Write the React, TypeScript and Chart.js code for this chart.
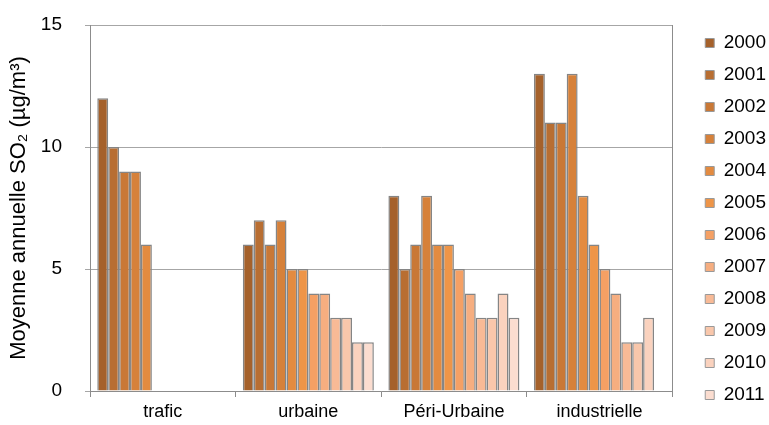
import React, { useEffect, useRef } from "react";
import { Chart, registerables } from "chart.js";

Chart.register(...registerables);

const categories = ["trafic", "urbaine", "Péri-Urbaine", "industrielle"];
const years = ["2000", "2001", "2002", "2003", "2004", "2005", "2006", "2007", "2008", "2009", "2010", "2011"];

// values per category: trafic, urbaine, Péri-Urbaine, industrielle
const v2000 = [12, 6, 8, 13];
const v2001 = [10, 7, 5, 11];
const v2002 = [9, 6, 6, 11];
const v2003 = [9, 7, 8, 13];
const v2004 = [6, 5, 6, 8];
const v2005 = [null, 5, 6, 6];
const v2006 = [null, 4, 5, 5];
const v2007 = [null, 4, 4, 4];
const v2008 = [null, 3, 3, 2];
const v2009 = [null, 3, 3, 2];
const v2010 = [null, 2, 4, 3];
const v2011 = [null, 2, 3, null];
const seriesValues = [v2000, v2001, v2002, v2003, v2004, v2005, v2006, v2007, v2008, v2009, v2010, v2011];

const yTicks = [0, 5, 10, 15];

const colors = [
  "#A5612B", "#B86E32", "#C97836", "#D6813A", "#E38B40", "#EE9548",
  "#F5A064", "#F6AE80", "#F8BA96", "#F9C7AB", "#FAD2BE", "#FBDDD0",
];

const FONT = "'Liberation Sans', Arial, sans-serif";

export default function App() {
  const ref = useRef<HTMLCanvasElement | null>(null);

  useEffect(() => {
    if (!ref.current) return;
    const chart = new Chart(ref.current, {
      type: "bar",
      data: {
        labels: categories,
        datasets: years.map((y, i) => ({
          label: y,
          data: seriesValues[i],
          backgroundColor: colors[i],
          borderColor: "#858585",
          borderWidth: 1.5,
          categoryPercentage: 0.9,
          barPercentage: 1,
        })),
      },
      options: {
        responsive: true,
        maintainAspectRatio: false,
        animation: false,
        layout: { padding: { top: 25, right: 2, left: 0, bottom: 0 } },
        plugins: {
          tooltip: { enabled: false },
          legend: {
            position: "right",
            align: "start",
            labels: {
              boxWidth: 9,
              boxHeight: 9,
              padding: 13,
              color: "#000",
              font: { family: FONT, size: 19 },
              generateLabels: (chart: any) =>
                (Chart.defaults.plugins.legend.labels.generateLabels as any)(chart).map((l: any) => ({
                  ...l,
                  lineWidth: 1,
                  strokeStyle: "#999999",
                })),
            },
          },
        },
        scales: {
          x: {
            grid: {
              display: true,
              drawOnChartArea: false,
              drawTicks: true,
              tickLength: 6,
              offset: true,
              color: "#8c8c8c",
            },
            border: { display: true, color: "#8c8c8c", width: 1 },
            ticks: { color: "#000", font: { family: FONT, size: 18 }, padding: 4 },
            afterFit: (s: any) => { s.height = 34; s.paddingLeft = 0; s.paddingRight = 0; },
          },
          y: {
            min: 0,
            max: 15,
            afterBuildTicks: (s: any) => { s.ticks = yTicks.map((v) => ({ value: v })); },
            grid: { color: "#a6a6a6", tickLength: 5, lineWidth: 1 },
            border: { display: true, color: "#8c8c8c", width: 1 },
            ticks: { color: "#000", font: { family: FONT, size: 19 }, padding: 23 },
            title: {
              display: true,
              text: "Moyenne annuelle SO₂ (µg/m³)",
              color: "#000",
              font: { family: FONT, size: 22 },
              padding: { top: 6, bottom: 0 },
            },
            afterFit: (s: any) => { s.width = 90; s.paddingTop = 0; s.paddingBottom = 0; },
          },
          y2: {
            position: "right",
            min: 0,
            max: 15,
            grid: { display: false, drawTicks: false },
            ticks: { display: false },
            border: { display: true, color: "#8c8c8c", width: 1 },
            afterFit: (s: any) => { s.width = 11; s.paddingTop = 0; s.paddingBottom = 0; },
          },
        },
      },
      plugins: [
        {
          id: "legendShift",
          afterLayout: (c: any) => {
            const lg = c.legend;
            if (lg) {
              lg.top -= 4.5;
              lg.bottom -= 4.5;
              lg.left += 9;
              lg.right += 9;
            }
          },
        },
      ],
    } as any);
    return () => chart.destroy();
  }, []);

  return (
    <div style={{ position: "absolute", left: 0, top: 0, width: 769, height: 425 }}>
      <canvas ref={ref} />
    </div>
  );
}
